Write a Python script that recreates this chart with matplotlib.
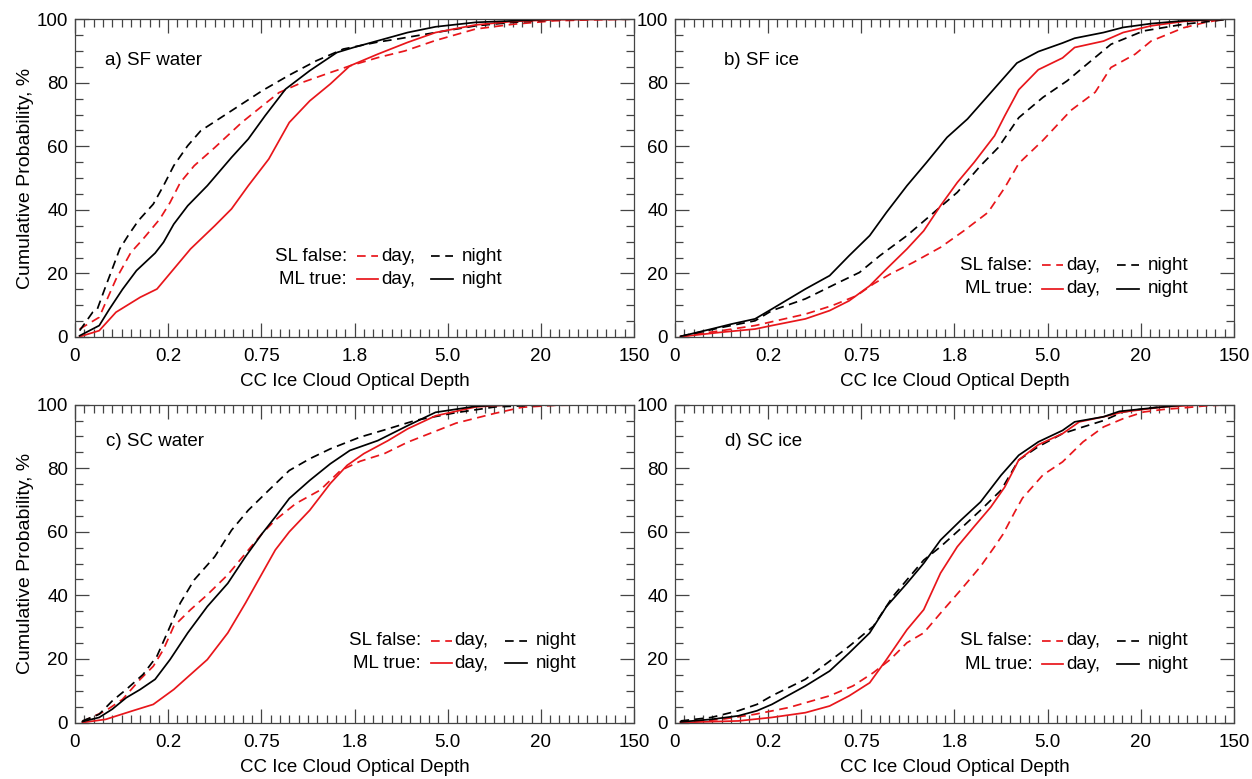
import matplotlib
matplotlib.use("Agg")
import matplotlib.pyplot as plt
from matplotlib.ticker import MultipleLocator, FixedLocator

plt.rcParams['font.family'] = ['Liberation Sans', 'DejaVu Sans']
FS = 13.5
plt.rcParams['font.size'] = FS

# x axis is a bin index (0..60), labelled with optical depth bin edges
tick_pos = [0, 10, 20, 30, 40, 50, 60]
tick_labels = ['0', '0.2', '0.75', '1.8', '5.0', '20', '150']

# ---- a) SF water
a_sln_x = [0.5, 1.9, 2.4, 3.3, 4.0, 4.8, 5.7, 6.8, 8.4, 9.5, 10.6, 12.1, 13.5, 15.7, 17.9, 20.1, 23.0, 25.9, 28.8, 32.5, 34.5, 38.7, 43.0, 47.0, 51.5, 55.0, 59.5]
a_sln_y = [2, 7.8, 8.8, 16, 21.4, 27.7, 31.9, 36.6, 41.8, 47.6, 53.9, 60.2, 64.9, 69.1, 73.3, 77.5, 82.4, 86.9, 90.6, 92.8, 93.7, 95.8, 97.9, 99, 99.8, 100, 100]
a_sld_x = [0.5, 2.6, 3.3, 4.4, 6.0, 7.3, 9.1, 10.2, 11.3, 12.8, 15.0, 17.9, 20.1, 21.9, 24.4, 27.4, 29.5, 32.5, 35.4, 38.7, 43.0, 47.0, 51.5, 55.7, 59.5]
a_sld_y = [2.5, 6.2, 10.9, 18.2, 26.6, 30.8, 37.1, 42.3, 48.6, 53.9, 59.6, 67.5, 72.7, 76.9, 80.1, 83.2, 85.3, 87.9, 90, 93.3, 96.9, 98.4, 99.5, 99.8, 100]
a_mln_x = [0.5, 2.6, 3.7, 5.1, 6.6, 8.6, 9.5, 10.6, 12.1, 14.2, 16.8, 18.6, 20.4, 22.6, 25.2, 28.1, 29.9, 32.5, 35.7, 38.7, 43.0, 47.2, 51.0, 59.5]
a_mln_y = [0.4, 3.6, 8.8, 15, 20.9, 26.4, 29.8, 35.5, 41.3, 47.6, 56.5, 62.3, 69.6, 78, 83.8, 89.5, 91.1, 93.2, 95.8, 97.6, 99, 99.5, 100, 100]
a_mld_x = [0.5, 2.6, 4.4, 7.0, 8.8, 10.6, 12.4, 15.0, 16.8, 18.6, 20.8, 23.0, 25.2, 27.4, 29.5, 32.5, 35.7, 38.7, 43.0, 47.0, 51.5, 59.5]
a_mld_y = [0.1, 2, 7.8, 12.5, 15.1, 21.4, 27.7, 35, 40.3, 47.6, 56, 67.5, 74.3, 79.6, 85.3, 89, 92.7, 95.8, 98.2, 99.3, 99.8, 100]

# ---- b) SF ice
b_sln_x = [0.6, 5.0, 8.6, 10.4, 14.0, 17.6, 19.8, 22.0, 24.9, 27.8, 30.3, 32.8, 34.7, 36.9, 39.5, 42.1, 43.8, 46.8, 50.3, 54.6, 58.9]
b_sln_y = [0.2, 3, 5.1, 8.3, 12, 17.2, 20.3, 25.6, 31.9, 39.2, 45.5, 53.9, 59.6, 69, 75.4, 80.6, 84.8, 92.1, 96.3, 98.4, 99.8]
b_sld_x = [0.6, 5.0, 8.6, 10.4, 14.0, 16.9, 19.5, 21.3, 23.1, 25.6, 28.5, 31.0, 33.6, 35.4, 36.9, 39.5, 42.5, 45.1, 46.8, 49.4, 51.1, 54.6, 56.8, 58.9]
b_sld_y = [0.2, 2, 3.6, 4.8, 7.2, 9.9, 13, 16.7, 19.8, 23.5, 28.2, 33.4, 39.2, 47, 54.6, 61.9, 71.3, 77, 84.8, 89, 93.1, 97.3, 98.9, 100]
b_mln_x = [0.6, 3.9, 6.1, 8.6, 10.4, 14.0, 16.6, 18.7, 20.9, 22.7, 24.9, 27.0, 29.2, 31.4, 33.6, 36.7, 39.0, 41.6, 42.9, 46.0, 48.1, 51.1, 54.6, 58.9]
b_mln_y = [0.2, 2.5, 4.1, 5.7, 8.8, 15.1, 19.3, 25.6, 31.9, 39.2, 47.6, 54.9, 62.8, 68.6, 75.9, 86.2, 89.8, 92.5, 94, 95.8, 97.4, 98.6, 99.5, 100]
b_mld_x = [0.6, 5.0, 8.6, 10.4, 14.0, 16.6, 18.7, 20.9, 22.7, 24.9, 26.7, 28.5, 30.3, 32.1, 34.3, 35.4, 36.9, 39.0, 41.6, 42.9, 46.0, 48.1, 51.1, 54.6, 58.9]
b_mld_y = [0.1, 1.5, 2.5, 3.6, 5.7, 8.3, 11.4, 16.1, 21.4, 27.7, 33.4, 41.3, 48.6, 54.9, 63.3, 69.6, 77.8, 84.1, 87.8, 91.1, 93.1, 95.8, 97.9, 99.3, 100]

# ---- c) SC water
c_sln_x = [0.8, 2.6, 4.0, 5.5, 7.3, 8.8, 9.9, 11.3, 12.8, 15.0, 16.8, 18.6, 20.8, 23.0, 25.2, 27.4, 30.6, 33.6, 36.6, 40.9, 45.1, 49.4, 59.5]
c_sln_y = [0.5, 2.6, 6.8, 10.4, 15.1, 20.9, 28.2, 37.6, 44.9, 52.2, 60.5, 66.8, 73.1, 79.3, 83, 86.1, 89.8, 92.4, 95.1, 97.5, 99.3, 99.8, 100]
c_sld_x = [0.8, 3.3, 5.1, 7.0, 8.4, 9.5, 10.6, 12.4, 14.2, 16.4, 18.3, 20.1, 21.5, 23.7, 26.3, 28.5, 30.6, 33.2, 35.7, 40.9, 45.1, 48.0, 51.5, 59.5]
c_sld_y = [0.3, 3.7, 7.3, 13.6, 17.7, 23, 30.3, 35.5, 40.2, 46.5, 53.2, 59.5, 63.7, 68.9, 73.1, 79.3, 82.2, 84.6, 88.2, 94.2, 97.3, 99.2, 99.8, 100]
c_mln_x = [0.8, 2.6, 4.0, 5.5, 7.0, 8.6, 10.2, 12.1, 14.2, 16.4, 18.3, 20.1, 21.5, 23.0, 25.2, 27.4, 29.5, 32.5, 35.7, 38.7, 43.0, 47.0, 59.5]
c_mln_y = [0.3, 1.6, 4.2, 7.8, 10.4, 13.6, 19.8, 28.2, 36.5, 43.8, 52.2, 59.5, 64.7, 70.5, 76.2, 81.4, 85.6, 88.7, 93.4, 97.6, 99.5, 100, 100]
c_mld_x = [0.8, 3.3, 6.2, 8.4, 10.6, 12.4, 14.2, 16.4, 18.3, 20.1, 21.5, 23.0, 25.2, 27.4, 29.2, 31.0, 33.6, 35.7, 38.7, 43.0, 47.0, 59.5]
c_mld_y = [0, 1, 3.7, 5.7, 10.4, 15.1, 19.8, 28.2, 37.6, 47, 54.3, 60, 66.8, 75.2, 80.9, 84.6, 88.7, 92.4, 96.5, 99.3, 100, 100]

# ---- d) SC ice
d_sln_x = [0.6, 3.9, 6.8, 8.8, 10.4, 14.0, 16.6, 18.7, 21.3, 23.4, 24.9, 26.7, 28.5, 30.7, 32.8, 35.0, 36.9, 39.0, 41.6, 43.8, 46.0, 48.1, 50.3, 54.0, 59.5]
d_sln_y = [0.5, 1.6, 3.7, 5.7, 8.4, 13.6, 19.3, 24, 30.3, 39.7, 44.9, 51.1, 55.3, 61.1, 66.8, 73.1, 82.6, 86.8, 90.9, 93, 95, 97.7, 98.7, 100, 100]
d_sld_x = [0.6, 5.0, 8.6, 12.2, 16.6, 19.1, 21.3, 23.1, 24.9, 26.7, 28.5, 30.7, 32.8, 34.3, 35.2, 36.5, 37.3, 39.5, 41.6, 43.8, 46.0, 48.1, 50.3, 52.4, 54.6, 56.8, 59.5]
d_sld_y = [0, 1, 2.6, 4.7, 8.4, 11.5, 15.7, 19.8, 25.1, 28.2, 34.4, 41.8, 49.1, 55.3, 59.2, 66.4, 70.6, 77.9, 82, 88.3, 93, 95.6, 97.7, 98.5, 99, 99.6, 100]
d_mln_x = [0.6, 3.9, 6.8, 8.8, 10.4, 14.0, 16.6, 18.7, 20.9, 22.7, 24.9, 26.7, 28.5, 30.7, 32.8, 35.0, 36.9, 39.0, 41.6, 42.9, 46.0, 47.7, 50.3, 52.4, 55.0, 59.5]
d_mln_y = [0.2, 1, 2.1, 3.7, 5.7, 11.5, 16.2, 21.9, 28.2, 36.5, 43.8, 50.1, 57.4, 63.7, 69.4, 77.8, 84.1, 88.3, 91.9, 94.6, 96.2, 97.9, 98.7, 99.3, 100, 100]
d_mld_x = [0.6, 6.8, 10.4, 14.0, 16.6, 18.7, 20.9, 22.7, 24.9, 26.7, 28.5, 30.3, 32.1, 33.9, 35.4, 36.9, 39.0, 41.6, 43.4, 46.0, 48.1, 52.4, 57.0, 59.5]
d_mld_y = [0, 0.5, 1.6, 3.1, 5.2, 8.4, 12.5, 19.8, 29.2, 35.5, 47, 55.3, 61.6, 67.8, 74.1, 82.6, 87.4, 90.9, 94.6, 96.2, 97.7, 99.3, 100, 100]

RED = '#e8161b'
DASH = (0, (5, 3.2))
LW = 1.25

fig = plt.figure(figsize=(12.52, 7.79), dpi=100)

panels = [
    # left, bottom, title, title pos, legend rows, legend anchor, data, y label?
    (0.0599, 0.5674, 'a) SF water', (0.054, 0.871), (0.254, 0.182), 0.487,
     (a_sld_x, a_sld_y), (a_sln_x, a_sln_y), (a_mld_x, a_mld_y), (a_mln_x, a_mln_y), True),
    (0.5391, 0.5674, 'b) SF ice', (0.088, 0.871), (0.226, 0.152), 0.640,
     (b_sld_x, b_sld_y), (b_sln_x, b_sln_y), (b_mld_x, b_mld_y), (b_mln_x, b_mln_y), False),
    (0.0599, 0.0725, 'c) SC water', (0.055, 0.884), (0.258, 0.186), 0.619,
     (c_sld_x, c_sld_y), (c_sln_x, c_sln_y), (c_mld_x, c_mld_y), (c_mln_x, c_mln_y), True),
    (0.5391, 0.0725, 'd) SC ice', (0.089, 0.884), (0.258, 0.184), 0.640,
     (d_sld_x, d_sld_y), (d_sln_x, d_sln_y), (d_mld_x, d_mld_y), (d_mln_x, d_mln_y), False),
]

for left, bottom, title, tpos, rows, lx, sld, sln, mld, mln, ylab in panels:
    ax = fig.add_axes([left, bottom, 0.4465, 0.4080])
    ax.plot(sld[0], sld[1], color=RED, lw=LW, linestyle=DASH)
    ax.plot(sln[0], sln[1], color='black', lw=LW, linestyle=DASH)
    ax.plot(mld[0], mld[1], color=RED, lw=LW)
    ax.plot(mln[0], mln[1], color='black', lw=LW)

    ax.set_xlim(0, 60)
    ax.set_ylim(0, 100)
    ax.xaxis.set_major_locator(FixedLocator(tick_pos))
    ax.set_xticklabels(tick_labels)
    ax.xaxis.set_minor_locator(MultipleLocator(1))
    ax.yaxis.set_major_locator(MultipleLocator(20))
    ax.yaxis.set_minor_locator(MultipleLocator(5))
    ax.tick_params(which='both', direction='in', top=True, right=True,
                   color='#444444', width=0.9, labelsize=FS)
    ax.tick_params(which='major', length=10)
    ax.tick_params(which='minor', length=6)
    ax.tick_params(axis='x', which='major', pad=8)
    ax.tick_params(axis='y', which='major', pad=5)
    for s in ax.spines.values():
        s.set_color('#444444')
        s.set_linewidth(0.9)
    ax.set_xlabel('CC Ice Cloud Optical Depth', fontsize=FS, labelpad=6)
    if ylab:
        ax.set_ylabel('Cumulative Probability, %', fontsize=FS + 0.5, labelpad=2)

    ax.text(tpos[0], tpos[1], title, transform=ax.transAxes, fontsize=FS, va='center')

    # hand made legend
    r1, r2 = rows
    for ry, lab, ls in [(r1, 'SL false:', DASH), (r2, 'ML true:', '-')]:
        ax.text(lx, ry, lab, transform=ax.transAxes, ha='right', va='center', fontsize=FS)
        ax.plot([lx + 0.017, lx + 0.055], [ry, ry], color=RED, lw=LW, linestyle=ls,
                transform=ax.transAxes)
        ax.text(lx + 0.060, ry, 'day,', transform=ax.transAxes, ha='left', va='center', fontsize=FS)
        ax.plot([lx + 0.150, lx + 0.190], [ry, ry], color='black', lw=LW, linestyle=ls,
                transform=ax.transAxes)
        ax.text(lx + 0.205, ry, 'night', transform=ax.transAxes, ha='left', va='center', fontsize=FS)

fig.savefig('out.png', dpi=100)
